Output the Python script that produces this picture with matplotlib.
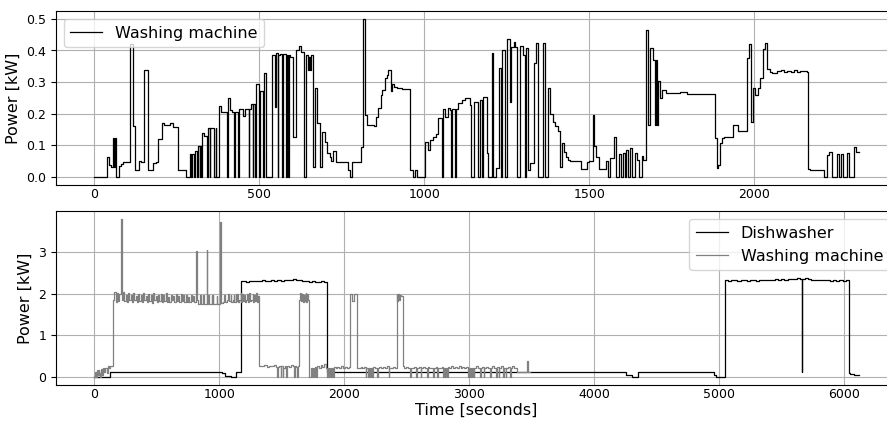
import numpy as np
import matplotlib
matplotlib.use("Agg")
import matplotlib.pyplot as plt

# ---- top panel: washing machine (step breakpoints, seconds / kW) ----
top_time = [
    0, 40, 46, 52, 57, 60, 62, 66, 75, 82,
    86, 109, 118, 125, 137, 143, 152, 162, 178, 186,
    192, 204, 212, 230, 238, 247, 255, 278, 290, 294,
    297, 301, 304, 312, 316, 320, 322, 325, 327, 334,
    341, 344, 350, 352, 362, 368, 370, 377, 384, 402,
    404, 410, 419, 424, 426, 436, 438, 450, 457, 468,
    470, 476, 480, 482, 487, 490, 499, 502, 512, 515,
    522, 538, 547, 550, 556, 558, 563, 568, 572, 581,
    585, 588, 590, 593, 603, 610, 620, 626, 635, 641,
    648, 651, 654, 658, 663, 670, 675, 683, 689, 698,
    706, 713, 718, 725, 733, 741, 770, 775, 781, 808,
    815, 821, 828, 848, 853, 861, 868, 873, 881, 886,
    891, 898, 903, 908, 918, 933, 958, 965, 971, 978,
    1003, 1010, 1018, 1028, 1035, 1043, 1053, 1058, 1063, 1071,
    1078, 1082, 1085, 1092, 1095, 1103, 1113, 1123, 1138, 1143,
    1151, 1164, 1168, 1174, 1179, 1189, 1194, 1204, 1209, 1219,
    1226, 1232, 1236, 1244, 1251, 1259, 1264, 1271, 1276, 1282,
    1289, 1299, 1305, 1307, 1309, 1316, 1321, 1334, 1339, 1346,
    1359, 1367, 1374, 1382, 1389, 1396, 1404, 1412, 1417, 1424,
    1431, 1436, 1442, 1474, 1476, 1492, 1499, 1511, 1516, 1522,
    1529, 1551, 1556, 1564, 1574, 1582, 1589, 1595, 1601, 1607,
    1613, 1619, 1625, 1629, 1639, 1644, 1651, 1659, 1664, 1672,
    1677, 1684, 1694, 1699, 1702, 1705, 1709, 1716, 1721, 1734,
    1745, 1775, 1795, 1831, 1881, 1886, 1891, 1896, 1903, 1909,
    1937, 1952, 1979, 1984, 1990, 1995, 2002, 2010, 2018, 2026,
    2033, 2040, 2047, 2053, 2068, 2080, 2090, 2100, 2110, 2120,
    2130, 2140, 2159, 2164, 2170, 2210, 2220, 2228, 2235, 2252,
    2258, 2262, 2270, 2280, 2288, 2302, 2308, 2318,
]
top_power = [
    0.0, 0.063, 0.037, 0.032, 0.124, 0.032, 0.124, 0.0, 0.035, 0.040,
    0.047, 0.420, 0.159, 0.020, 0.050, 0.045, 0.338, 0.021, 0.042, 0.047,
    0.118, 0.171, 0.164, 0.169, 0.158, 0.156, 0.021, 0.0, 0.071, 0.0,
    0.071, 0.0, 0.082, 0.0, 0.097, 0.0, 0.097, 0.0, 0.137, 0.130,
    0.0, 0.153, 0.0, 0.155, 0.0, 0.155, 0.0, 0.224, 0.206, 0.0,
    0.250, 0.211, 0.206, 0.0, 0.206, 0.0, 0.213, 0.192, 0.213, 0.0,
    0.213, 0.230, 0.0, 0.230, 0.0, 0.294, 0.0, 0.273, 0.0, 0.328,
    0.0, 0.386, 0.222, 0.393, 0.0, 0.386, 0.390, 0.0, 0.390, 0.0,
    0.385, 0.0, 0.385, 0.380, 0.125, 0.400, 0.414, 0.395, 0.0, 0.386,
    0.338, 0.380, 0.338, 0.386, 0.030, 0.280, 0.170, 0.030, 0.143, 0.111,
    0.076, 0.063, 0.051, 0.082, 0.048, 0.048, 0.021, 0.0, 0.048, 0.095,
    0.499, 0.196, 0.164, 0.160, 0.190, 0.217, 0.259, 0.275, 0.312, 0.322,
    0.338, 0.270, 0.294, 0.285, 0.282, 0.279, 0.021, 0.0, 0.021, 0.0,
    0.111, 0.085, 0.116, 0.127, 0.135, 0.185, 0.0, 0.213, 0.188, 0.217,
    0.210, 0.0, 0.215, 0.0, 0.215, 0.233, 0.243, 0.248, 0.228, 0.0,
    0.238, 0.0, 0.243, 0.0, 0.254, 0.074, 0.0, 0.391, 0.0, 0.026,
    0.344, 0.0, 0.402, 0.0, 0.436, 0.238, 0.410, 0.426, 0.410, 0.0,
    0.414, 0.386, 0.0, 0.386, 0.407, 0.021, 0.042, 0.359, 0.425, 0.0,
    0.425, 0.0, 0.282, 0.200, 0.174, 0.159, 0.146, 0.032, 0.108, 0.079,
    0.063, 0.053, 0.051, 0.048, 0.023, 0.048, 0.051, 0.196, 0.097, 0.063,
    0.023, 0.051, 0.0, 0.058, 0.127, 0.0, 0.071, 0.0, 0.075, 0.0,
    0.085, 0.0, 0.090, 0.0, 0.074, 0.053, 0.0, 0.066, 0.053, 0.465,
    0.164, 0.407, 0.370, 0.164, 0.370, 0.164, 0.304, 0.248, 0.275, 0.266,
    0.264, 0.267, 0.261, 0.262, 0.122, 0.026, 0.037, 0.106, 0.122, 0.125,
    0.164, 0.146, 0.375, 0.420, 0.174, 0.280, 0.259, 0.280, 0.312, 0.404,
    0.423, 0.340, 0.333, 0.330, 0.335, 0.338, 0.332, 0.336, 0.332, 0.338,
    0.333, 0.335, 0.333, 0.023, 0.021, 0.0, 0.069, 0.079, 0.0, 0.072,
    0.0, 0.072, 0.0, 0.076, 0.0, 0.095, 0.079, 0.079,
]

# ---- bottom panel: dishwasher ----
dw_time = [
    0, 125, 1024, 1045, 1090, 1130, 1173, 1190, 1215, 1240,
    1265, 1290, 1315, 1340, 1365, 1390, 1415, 1440, 1465, 1490,
    1515, 1540, 1565, 1590, 1615, 1640, 1665, 1690, 1715, 1740,
    1765, 1790, 1815, 1840, 1859, 4254, 4299, 4352, 4958, 4974,
    5046, 5070, 5095, 5120, 5145, 5170, 5195, 5220, 5245, 5270,
    5295, 5320, 5345, 5370, 5395, 5420, 5445, 5470, 5495, 5520,
    5545, 5570, 5595, 5620, 5645, 5657, 5663, 5685, 5710, 5735,
    5760, 5785, 5810, 5835, 5860, 5885, 5910, 5935, 5960, 5985,
    6010, 6033, 6046, 6073, 6118,
]
dw_power = [
    0.0, 0.12, 0.08, 0.02, 0.0, 0.12, 2.30, 2.31, 2.29, 2.31,
    2.30, 2.31, 2.30, 2.32, 2.31, 2.30, 2.32, 2.31, 2.32, 2.31,
    2.33, 2.32, 2.34, 2.35, 2.33, 2.32, 2.30, 2.31, 2.29, 2.30,
    2.28, 2.29, 2.30, 2.29, 0.11, 0.03, 0.0, 0.11, 0.03, 0.0,
    2.32, 2.31, 2.33, 2.32, 2.31, 2.33, 2.32, 2.31, 2.32, 2.33,
    2.31, 2.32, 2.34, 2.33, 2.34, 2.33, 2.35, 2.34, 2.35, 2.34,
    2.36, 2.35, 2.36, 2.37, 2.36, 0.12, 2.36, 2.37, 2.35, 2.34,
    2.33, 2.34, 2.32, 2.33, 2.32, 2.31, 2.32, 2.31, 2.32, 2.31,
    2.32, 0.10, 0.06, 0.03, 0.03,
]

# ---- bottom panel: washing machine ----
# start-up, then first heating phase sampled every 10 s from t=152
wm_start_time = [0, 8, 14, 20, 28, 35, 42, 50, 58, 65, 72, 80, 90, 100, 110, 120, 130, 145]
wm_start_power = [0.0, 0.12, 0.0, 0.15, 0.05, 0.15, 0.10, 0.0, 0.18, 0.05,
                  0.20, 0.12, 0.22, 0.10, 0.25, 0.20, 0.26, 0.27]
heat_t0, heat_dt = 152, 10
heat_power = [
    1.85, 2.05, 1.80, 2.02, 1.82, 2.00, 3.80, 1.85, 2.04, 1.83,
    1.98, 1.80, 2.03, 1.84, 1.97, 1.81, 2.01, 1.86, 1.95, 1.80,
    2.00, 1.83, 1.96, 1.79, 2.02, 1.85, 1.94, 1.80, 1.99, 1.82,
    1.97, 1.78, 2.01, 1.84, 1.95, 1.80, 1.98, 1.83, 2.00, 1.79,
    1.96, 1.82, 2.01, 1.80, 1.93, 1.81, 1.98, 1.84, 1.95, 1.79,
    2.00, 1.82, 1.94, 1.80, 1.99, 1.83, 1.96, 1.79, 1.97, 1.81,
    1.93, 1.80, 1.98, 1.82, 1.95, 1.79, 3.04, 1.85,
]
wm_rest_time = [
    832, 846, 852, 872, 878, 900, 906, 912, 918, 939,
    944, 948, 954, 979, 985, 1008, 1014, 1030, 1040, 1046,
    1060, 1070, 1076, 1090, 1096, 1106, 1115, 1121, 1130, 1136,
    1145, 1151, 1160, 1170, 1176, 1185, 1190, 1196, 1202, 1212,
    1225, 1231, 1240, 1246, 1256, 1266, 1272, 1280, 1286, 1294,
    1300, 1308, 1314, 1320, 1340, 1360, 1380, 1400, 1420, 1440,
    1450, 1460, 1466, 1480, 1490, 1496, 1506, 1512, 1525, 1535,
    1541, 1560, 1575, 1590, 1600, 1606, 1615, 1622, 1628, 1637,
    1645, 1652, 1660, 1667, 1675, 1682, 1690, 1697, 1705, 1712,
    1720, 1730, 1740, 1746, 1756, 1762, 1775, 1781, 1795, 1810,
    1825, 1840, 1850, 1862, 1868, 1878, 1884, 1894, 1900, 1910,
    1916, 1930, 1945, 1960, 1975, 1990, 2005, 2020, 2035, 2045,
    2064, 2080, 2100, 2115, 2130, 2145, 2160, 2170, 2176, 2190,
    2196, 2206, 2212, 2225, 2231, 2245, 2260, 2266, 2280, 2295,
    2310, 2325, 2340, 2355, 2361, 2375, 2390, 2405, 2419, 2425,
    2430, 2436, 2442, 2450, 2467, 2480, 2495, 2510, 2525, 2531,
    2545, 2560, 2575, 2581, 2595, 2610, 2616, 2630, 2645, 2660,
    2666, 2680, 2695, 2710, 2716, 2730, 2745, 2751, 2765, 2780,
    2790, 2796, 2805, 2811, 2820, 2826, 2840, 2855, 2870, 2885,
    2900, 2915, 2930, 2945, 2960, 2975, 2990, 2996, 3005, 3011,
    3020, 3026, 3035, 3041, 3055, 3070, 3085, 3091, 3100, 3115,
    3121, 3135, 3150, 3165, 3171, 3185, 3200, 3215, 3221, 3235,
    3241, 3255, 3270, 3276, 3290, 3296, 3310, 3325, 3331, 3345,
    3360, 3380, 3465, 3472, 3485,
]
wm_rest_power = [
    1.75, 1.98, 1.75, 1.97, 1.76, 3.06, 1.76, 1.98, 1.75, 1.96,
    1.76, 1.97, 1.75, 1.95, 1.75, 3.73, 1.78, 1.80, 1.97, 1.80,
    1.84, 2.00, 1.82, 1.98, 1.80, 1.84, 1.97, 1.80, 2.00, 1.82,
    1.99, 1.81, 1.85, 2.02, 1.80, 2.00, 1.82, 1.98, 1.80, 1.85,
    1.99, 1.80, 2.02, 1.82, 1.84, 2.00, 1.80, 1.97, 1.82, 2.03,
    1.80, 1.95, 1.80, 0.27, 0.25, 0.28, 0.24, 0.27, 0.25, 0.28,
    0.24, 0.0, 0.24, 0.27, 0.0, 0.25, 0.0, 0.22, 0.26, 0.0,
    0.27, 0.24, 0.28, 0.25, 0.0, 0.27, 0.24, 0.0, 0.26, 1.85,
    2.02, 1.82, 2.00, 1.80, 1.98, 1.83, 2.02, 1.81, 1.99, 1.85,
    0.0, 0.22, 0.0, 0.20, 0.0, 0.24, 0.0, 0.26, 0.22, 0.28,
    0.24, 0.30, 0.22, 0.0, 0.20, 0.0, 0.22, 0.0, 0.20, 0.0,
    0.23, 0.20, 0.24, 0.21, 0.25, 0.20, 0.23, 0.21, 0.24, 2.00,
    1.83, 2.00, 0.22, 0.20, 0.23, 0.21, 0.24, 0.0, 0.21, 0.0,
    0.22, 0.0, 0.20, 0.0, 0.23, 0.20, 0.0, 0.22, 0.24, 0.20,
    0.23, 0.21, 0.25, 0.0, 0.22, 0.20, 0.24, 0.21, 2.00, 1.82,
    2.00, 1.85, 1.98, 1.95, 0.25, 0.20, 0.24, 0.21, 0.0, 0.22,
    0.20, 0.24, 0.0, 0.21, 0.23, 0.0, 0.20, 0.24, 0.21, 0.0,
    0.23, 0.20, 0.22, 0.0, 0.21, 0.24, 0.0, 0.22, 0.20, 0.24,
    0.0, 0.22, 0.0, 0.20, 0.0, 0.23, 0.21, 0.25, 0.20, 0.24,
    0.22, 0.26, 0.21, 0.24, 0.20, 0.23, 0.0, 0.22, 0.0, 0.20,
    0.0, 0.21, 0.0, 0.22, 0.25, 0.21, 0.0, 0.22, 0.24, 0.0,
    0.21, 0.23, 0.20, 0.0, 0.22, 0.26, 0.21, 0.0, 0.24, 0.0,
    0.21, 0.25, 0.0, 0.22, 0.0, 0.20, 0.24, 0.0, 0.21, 0.25,
    0.21, 0.12, 0.38, 0.12, 0.12,
]

heat_time = heat_t0 + heat_dt * np.arange(len(heat_power))
wm_time = np.concatenate([wm_start_time, heat_time, wm_rest_time])
wm_power = np.concatenate([wm_start_power, heat_power, wm_rest_power])

plt.rcParams['font.family'] = 'DejaVu Sans'

fig = plt.figure(figsize=(8.871, 4.211), dpi=100)
# the original figure is cut off on the right, so the axes run past the edge
ax1 = fig.add_axes([0.0631, 0.5615, 0.9485, 0.4114])
ax2 = fig.add_axes([0.0631, 0.0865, 0.9485, 0.4116])

ax1.plot(top_time, top_power, drawstyle='steps-post', color='black', lw=0.9,
         label='Washing machine')
ax1.set_ylabel('Power [kW]', fontsize=11.5)
ax1.legend(loc='upper left', fontsize=11.5)

ax2.plot(dw_time, dw_power, drawstyle='steps-post', color='black', lw=0.9,
         label='Dishwasher')
ax2.plot(wm_time, wm_power, drawstyle='steps-post', color='gray', lw=0.9,
         label='Washing machine')
ax2.set_ylabel('Power [kW]', fontsize=11.5)
ax2.set_xlabel('Time [seconds]', fontsize=11.5, labelpad=1)
ax2.legend(loc='upper right', fontsize=11.5)

for ax in (ax1, ax2):
    ax.grid(True)
    ax.spines['right'].set_visible(False)
    ax.tick_params(labelsize=9)
    ax.tick_params(axis='x', length=0, pad=2.5)

fig.savefig('out.png', dpi=100)
